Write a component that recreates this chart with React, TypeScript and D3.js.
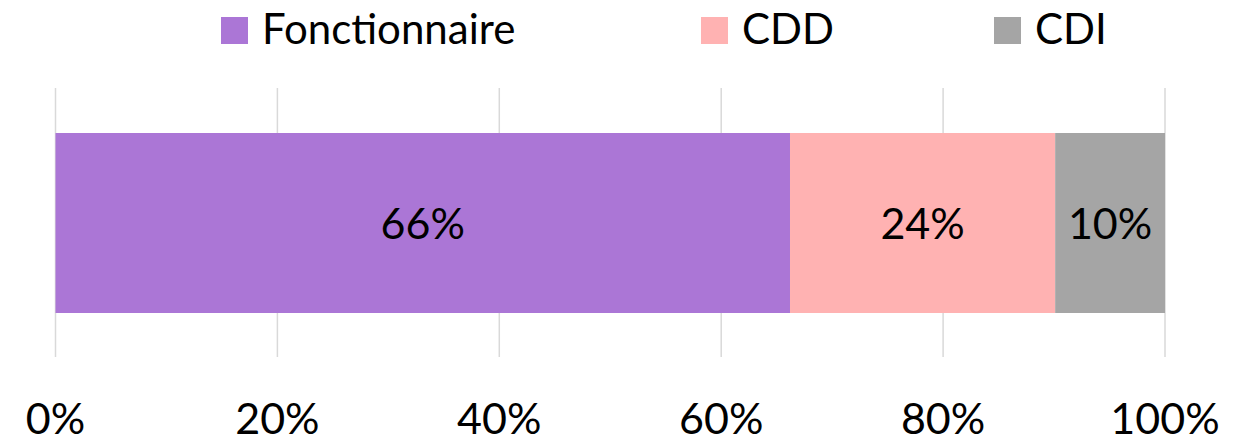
import React from "react";
import * as d3 from "d3";

const categories = ["Fonctionnaire", "CDD", "CDI"];
const values = [66.2, 23.9, 9.9];
const valueLabels = ["66%", "24%", "10%"];
const colors = ["#AB76D6", "#FFB2B2", "#A5A5A5"];
const ticks = [0, 20, 40, 60, 80, 100];
const tickLabels = ["0%", "20%", "40%", "60%", "80%", "100%"];
const legendX = [221, 701, 994];

const W = 1241;
const H = 442;
const FONT = "Lato, 'Open Sans', sans-serif";

export default function App() {
  const x = d3.scaleLinear().domain([0, 100]).range([55.5, 1165]);
  const bandY = 133;
  const bandH = 180;
  let cum = 0;
  const segs = values.map((v, i) => {
    const s = { x0: cum, x1: cum + v, i };
    cum += v;
    return s;
  });
  return (
    <svg width={W} height={H} style={{ position: "absolute", left: 0, top: 0, background: "#fff" }}>
      {ticks.map((t) => (
        <line key={t} x1={x(t)} x2={x(t)} y1={88} y2={357} stroke="#D9D9D9" strokeWidth={1.5} />
      ))}
      {segs.map((s) => (
        <rect key={s.i} x={x(s.x0)} y={bandY} width={x(s.x1) - x(s.x0)} height={bandH} fill={colors[s.i]} />
      ))}
      {segs.map((s) => (
        <text key={"l" + s.i} x={(x(s.x0) + x(s.x1)) / 2} y={239} textAnchor="middle" fontFamily={FONT} fontSize={43} fill="#000">
          {valueLabels[s.i]}
        </text>
      ))}
      {ticks.map((t, i) => (
        <text key={"t" + t} x={x(t)} y={434} textAnchor="middle" fontFamily={FONT} fontSize={43} fill="#000">
          {tickLabels[i]}
        </text>
      ))}
      {categories.map((c, i) => (
        <g key={c}>
          <rect x={legendX[i]} y={17} width={27} height={27} fill={colors[i]} />
          <text x={legendX[i] + 41} y={44} fontFamily={FONT} fontSize={42} fill="#000">
            {c}
          </text>
        </g>
      ))}
    </svg>
  );
}
